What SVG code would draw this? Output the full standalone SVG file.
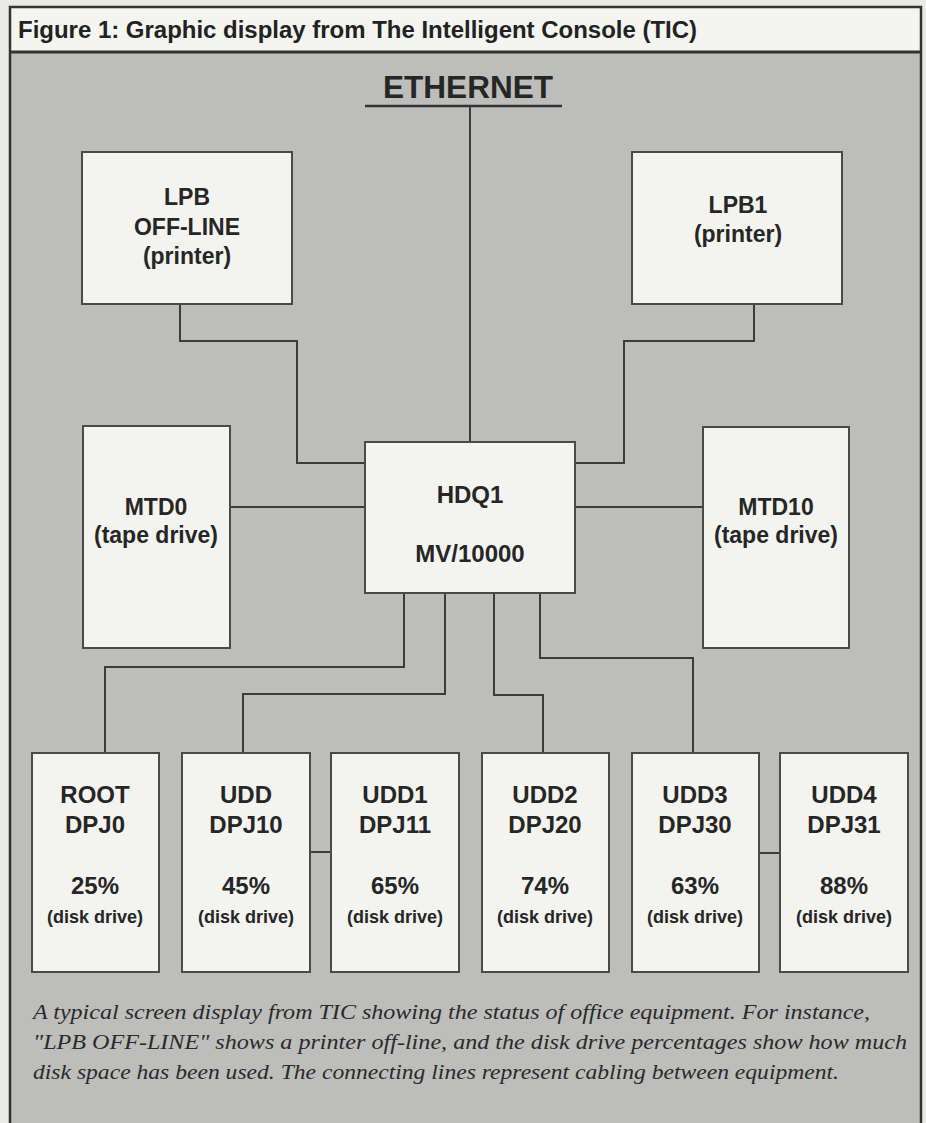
<svg xmlns="http://www.w3.org/2000/svg" width="926" height="1123" viewBox="0 0 926 1123">
<style>
.bg{fill:#bdbdbb}
.box{fill:#f3f3ef;stroke:#4a4a4a;stroke-width:2}
.t{font-family:"Liberation Sans",Arial,sans-serif;font-weight:bold;fill:#262626;text-anchor:middle}
.big{font-size:23px}
.pct{font-size:24px}
.sm{font-size:18px}
.wire{fill:none;stroke:#3c3c3c;stroke-width:2}
.cap{font-family:"Liberation Serif","Times New Roman",serif;font-style:italic;font-size:22px;fill:#2a2a2a}
</style>
<rect x="0" y="0" width="926" height="1123" fill="#e9e9e6"/>
<rect class="bg" x="10" y="52" width="911" height="1080"/>
<rect x="10" y="7" width="911" height="45" fill="#f4f4f0"/>
<rect x="10" y="7" width="911" height="1130" fill="none" stroke="#333" stroke-width="2.5"/>
<line x1="10" y1="52" x2="921" y2="52" stroke="#333" stroke-width="3"/>
<text x="18" y="38" font-family="'Liberation Sans',Arial,sans-serif" font-weight="bold" font-size="23" fill="#222" textLength="679" lengthAdjust="spacingAndGlyphs">Figure 1: Graphic display from The Intelligent Console (TIC)</text>

<g id="ethernet">
<text class="t" x="468" y="98" font-size="32" textLength="170" lengthAdjust="spacingAndGlyphs">ETHERNET</text>
<line x1="365" y1="106" x2="562" y2="106" stroke="#333" stroke-width="2.5"/>
</g>

<g id="connectors">
<path class="wire" d="M470 106 V442"/>
<path class="wire" d="M180 304 V341 H297 V463 H365"/>
<path class="wire" d="M754 304 V341 H624 V463 H575"/>
<path class="wire" d="M230 507 H365"/>
<path class="wire" d="M575 507 H703"/>
<path class="wire" d="M404 593 V667 H105 V753"/>
<path class="wire" d="M445 593 V694 H243 V753"/>
<path class="wire" d="M494 593 V695 H543 V753"/>
<path class="wire" d="M540 593 V658 H693 V753"/>
<path class="wire" d="M310 852 H331"/>
<path class="wire" d="M759 853 H780"/>
</g>

<g id="lpb">
<rect class="box" x="82" y="152" width="210" height="152"/>
<text class="t big" x="187" y="205">LPB</text>
<text class="t big" x="187" y="235">OFF-LINE</text>
<text class="t big" x="187" y="264">(printer)</text>
</g>
<g id="lpb1">
<rect class="box" x="632" y="152" width="210" height="152"/>
<text class="t big" x="738" y="213">LPB1</text>
<text class="t big" x="738" y="242">(printer)</text>
</g>
<g id="mtd0">
<rect class="box" x="83" y="426" width="147" height="222"/>
<text class="t big" x="156" y="515">MTD0</text>
<text class="t big" x="156" y="543">(tape drive)</text>
</g>
<g id="hdq1">
<rect class="box" x="365" y="442" width="210" height="151"/>
<text class="t pct" x="470" y="503">HDQ1</text>
<text class="t pct" x="470" y="562">MV/10000</text>
</g>
<g id="mtd10">
<rect class="box" x="703" y="427" width="146" height="221"/>
<text class="t big" x="776" y="515">MTD10</text>
<text class="t big" x="776" y="543">(tape drive)</text>
</g>

<g id="root">
<rect class="box" x="32" y="753" width="127" height="219"/>
<text class="t pct" x="95" y="803">ROOT</text>
<text class="t pct" x="95" y="833">DPJ0</text>
<text class="t pct" x="95" y="894">25%</text>
<text class="t sm" x="95" y="923">(disk drive)</text>
</g>
<g id="udd">
<rect class="box" x="182" y="753" width="128" height="219"/>
<text class="t pct" x="246" y="803">UDD</text>
<text class="t pct" x="246" y="833">DPJ10</text>
<text class="t pct" x="246" y="894">45%</text>
<text class="t sm" x="246" y="923">(disk drive)</text>
</g>
<g id="udd1">
<rect class="box" x="331" y="753" width="128" height="219"/>
<text class="t pct" x="395" y="803">UDD1</text>
<text class="t pct" x="395" y="833">DPJ11</text>
<text class="t pct" x="395" y="894">65%</text>
<text class="t sm" x="395" y="923">(disk drive)</text>
</g>
<g id="udd2">
<rect class="box" x="482" y="753" width="127" height="219"/>
<text class="t pct" x="545" y="803">UDD2</text>
<text class="t pct" x="545" y="833">DPJ20</text>
<text class="t pct" x="545" y="894">74%</text>
<text class="t sm" x="545" y="923">(disk drive)</text>
</g>
<g id="udd3">
<rect class="box" x="632" y="753" width="127" height="219"/>
<text class="t pct" x="695" y="803">UDD3</text>
<text class="t pct" x="695" y="833">DPJ30</text>
<text class="t pct" x="695" y="894">63%</text>
<text class="t sm" x="695" y="923">(disk drive)</text>
</g>
<g id="udd4">
<rect class="box" x="780" y="753" width="128" height="219"/>
<text class="t pct" x="844" y="803">UDD4</text>
<text class="t pct" x="844" y="833">DPJ31</text>
<text class="t pct" x="844" y="894">88%</text>
<text class="t sm" x="844" y="923">(disk drive)</text>
</g>

<g id="caption">
<text class="cap" x="33" y="1019" textLength="837" lengthAdjust="spacingAndGlyphs">A typical screen display from TIC showing the status of office equipment. For instance,</text>
<text class="cap" x="33" y="1049" textLength="874" lengthAdjust="spacingAndGlyphs">"LPB OFF-LINE" shows a printer off-line, and the disk drive percentages show how much</text>
<text class="cap" x="33" y="1079" textLength="806" lengthAdjust="spacingAndGlyphs">disk space has been used. The connecting lines represent cabling between equipment.</text>
</g>
</svg>
